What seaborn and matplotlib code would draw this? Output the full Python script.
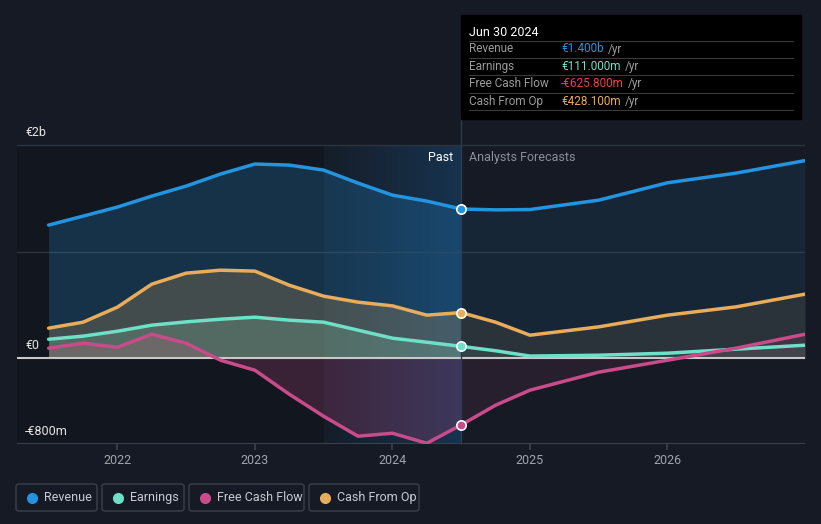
import numpy as np
import pandas as pd
import matplotlib
matplotlib.use("Agg")
import matplotlib.pyplot as plt
import seaborn as sns
from matplotlib.patches import FancyBboxPatch, Rectangle
from matplotlib.lines import Line2D

# valores (millones de EUR)
years_past = [2021.5, 2021.75, 2022.0, 2022.25, 2022.5, 2022.75, 2023.0,
              2023.25, 2023.5, 2023.75, 2024.0, 2024.25, 2024.5]
years_fc = [2024.5, 2024.75, 2025.0, 2025.5, 2026.0, 2026.5, 2027.0]

revenue_past = [1249, 1333, 1418, 1521, 1615, 1728, 1822, 1812, 1765, 1643, 1530, 1474, 1400]
revenue_fc = [1400, 1392, 1395, 1483, 1646, 1737, 1854]

earnings_past = [178, 207, 253, 310, 341, 366, 385, 357, 338, 263, 188, 150, 111]
earnings_fc = [111, 70, 20, 28, 47, 85, 122]

fcf_past = [94, 141, 103, 225, 141, -19, -113, -338, -545, -732, -704, -798, -626]
fcf_fc = [-626, -441, -300, -131, -19, 94, 225]

cfo_past = [282, 338, 479, 695, 798, 826, 817, 685, 582, 526, 491, 404, 428]
cfo_fc = [428, 338, 216, 294, 404, 482, 601]

series = [
    ("Revenue", revenue_past, revenue_fc, "#2394df"),
    ("Earnings", earnings_past, earnings_fc, "#6ee0c8"),
    ("Free Cash Flow", fcf_past, fcf_fc, "#c94b8a"),
    ("Cash From Op", cfo_past, cfo_fc, "#e8ac5a"),
]

bg = "#151a24"
sns.set_theme(style="dark")
plt.rcParams['font.family'] = ['Roboto', 'DejaVu Sans']

fig = plt.figure(figsize=(8.21, 5.24), dpi=100, facecolor=bg)
ax = fig.add_axes([17/821, 1 - 444/524, (805 - 17)/821, (444 - 115)/524])
ax.set_facecolor(bg)
x0, x1 = 2021.27, 2027.0
ax.set_xlim(x0, x1)
ax.set_ylim(-805, 2282)

# zona pasada oscura y resaltado del ultimo año
ax.add_patch(Rectangle((x0, -805), 2023.5 - x0, 2805, color="#12171f", zorder=0, lw=0))
grad = np.linspace(0, 1, 256).reshape(1, -1)
cmap = matplotlib.colors.LinearSegmentedColormap.from_list(
    "hl", [(0.085, 0.115, 0.16, 1), (0.09, 0.2, 0.31, 1)])
ax.imshow(grad, extent=[2023.5, 2024.5, -805, 2000], aspect="auto", cmap=cmap, zorder=0.5)

# rejilla
for v in [2000, 1000]:
    ax.axhline(v, color="#2c3440", lw=1, zorder=1)
ax.axhline(-805, color="#3a414c", lw=1.5, zorder=1)

for name, past, fc, col in series:
    ax.fill_between(years_past, past, 0, color=col, alpha=0.22, lw=0, zorder=2)
    ax.fill_between(years_fc, fc, 0, color=col, alpha=0.1, lw=0, zorder=2)
    df = pd.DataFrame({"x": years_past[:-1] + years_fc, "y": past[:-1] + fc})
    sns.lineplot(data=df, x="x", y="y", ax=ax, color=col, lw=2.5, zorder=4)
    ax.scatter([2024.5], [past[-1]], s=45, color=col, edgecolor="white", lw=1.2, zorder=6)

ax.axhline(0, color="#c8c8c8", lw=1.5, zorder=3)
ax.plot([2024.5, 2024.5], [-805, 2282], color="#2c3d50", lw=1, zorder=3, clip_on=False)

ax.set_xlabel("")
ax.set_ylabel("")
ax.set_yticks([])
ax.set_xticks([2022, 2023, 2024, 2025, 2026])
ax.set_xticklabels(["2022", "2023", "2024", "2025", "2026"], color="#a0a4ab", fontsize=9)
ax.tick_params(axis="x", length=4, color="#3a414c", pad=3, bottom=True)
for s in ax.spines.values():
    s.set_visible(False)

for v, lab in [(2000, "€2b"), (0, "€0"), (-800, "-€800m")]:
    ax.text(2021.33, v + 55, lab, color="#e6e6e6", fontsize=9, va="bottom", zorder=7)

ax.text(2024.44, 1880, "Past", color="white", fontsize=9, ha="right", va="center", zorder=7)
ax.text(2024.56, 1880, "Analysts Forecasts", color="#8c9097", fontsize=9, ha="left", va="center", zorder=7)

# tooltip
def fy(py):
    return 1 - py / 524

def fx(px):
    return px / 821

fig.patches.append(Rectangle((fx(461), fy(119)), fx(801) - fx(461), fy(15) - fy(119),
                             transform=fig.transFigure, color="black", zorder=10))
fig.text(fx(469), fy(32), "Jun 30 2024", color="white", fontsize=9, va="center", zorder=11)
rows = [("Revenue", "€1.400b", "#2394df"), ("Earnings", "€111.000m", "#6ee0c8"),
        ("Free Cash Flow", "-€625.800m", "#e84343"), ("Cash From Op", "€428.100m", "#e8ac5a")]
renderer = fig.canvas.get_renderer()
for i, (lab, val, col) in enumerate(rows):
    yy = 49 + i * 17.4
    fig.add_artist(Line2D([fx(469), fx(793)], [fy(yy - 8.5), fy(yy - 8.5)], color="#3a3a3a", lw=0.8, zorder=11))
    fig.text(fx(469), fy(yy), lab, color="#9a9a9a", fontsize=8.5, va="center", zorder=11)
    t = fig.text(fx(561), fy(yy), val, color=col, fontsize=8.5, va="center", zorder=11)
    w = t.get_window_extent(renderer=renderer).width
    fig.text(fx(561 + w + 4), fy(yy), "/yr", color="#9a9a9a", fontsize=8.5, va="center", zorder=11)
fig.add_artist(Line2D([fx(469), fx(793)], [fy(110), fy(110)], color="#3a3a3a", lw=0.8, zorder=11))

# leyenda
boxes = [(16, 97), (102, 184), (189, 304), (309, 419)]
for (bx0, bx1), (name, _, _, col) in zip(boxes, series):
    fig.patches.append(FancyBboxPatch((fx(bx0), fy(511)), fx(bx1) - fx(bx0), fy(484) - fy(511),
                                      boxstyle="round,pad=0,rounding_size=0.004",
                                      transform=fig.transFigure, facecolor=bg,
                                      edgecolor="#3a414c", lw=1))
    fig.add_artist(Line2D([fx(bx0 + 16)], [fy(497.5)], marker="o", ms=7, color=col, lw=0))
    fig.text(fx(bx0 + 28), fy(497.5), name, color="#c8ccd2", fontsize=9, va="center")

fig.savefig("out.png", dpi=100, facecolor=bg)
